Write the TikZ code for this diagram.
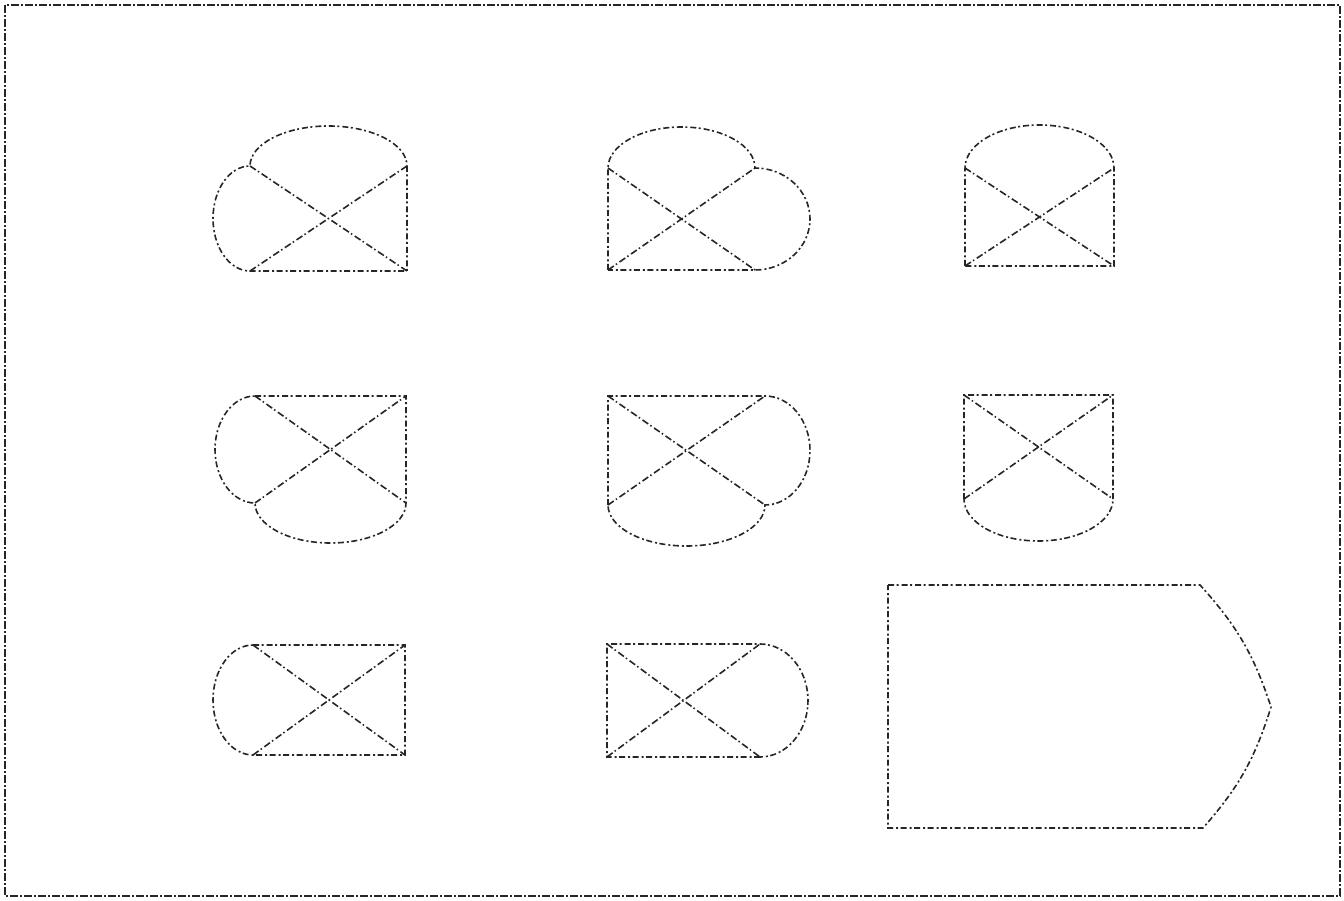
\documentclass[tikz,border=0pt]{standalone}
\usetikzlibrary{calc}
\begin{document}
\begin{tikzpicture}[x=1pt,y=-1pt,
  sk/.style={draw=black!85, line width=1.6pt, dash pattern=on 6pt off 2.5pt on 2pt off 3pt},
  xline/.style={draw=black!85, line width=1.6pt, dash pattern=on 7pt off 2.5pt on 1.5pt off 3pt},
  framebox/.style={draw=black!85, line width=1.6pt, dash pattern=on 8pt off 2pt on 2pt off 2pt}]
\useasboundingbox (0,0) rectangle (1344,901);
\draw[framebox] (5,5) rectangle (1340,896);

% shape 1: left and top rounded
\coordinate (a1) at (250,166); \coordinate (b1) at (407,166);
\coordinate (c1) at (407,271); \coordinate (d1) at (250,271);
\draw[sk] (b1) -- (c1) -- (d1) arc[start angle=90,end angle=270,x radius=37,y radius=52.5]
  arc[start angle=180,end angle=360,x radius=78.5,y radius=40] -- cycle;
\draw[xline] (a1) -- (c1) (d1) -- (b1);

% shape 2: top and right rounded
\coordinate (a2) at (608,168); \coordinate (b2) at (755,168);
\coordinate (c2) at (755,270); \coordinate (d2) at (608,270);
\draw[sk] (d2) -- (a2) arc[start angle=180,end angle=360,x radius=73.5,y radius=41]
  arc[start angle=270,end angle=450,x radius=55,y radius=51] -- cycle;
\draw[xline] (a2) -- (c2) (d2) -- (b2);

% shape 3: top rounded
\coordinate (a3) at (965,168); \coordinate (b3) at (1114,168);
\coordinate (c3) at (1114,266); \coordinate (d3) at (965,266);
\draw[sk] (d3) -- (a3) arc[start angle=180,end angle=360,x radius=74.5,y radius=43]
  -- (c3) -- cycle;
\draw[xline] (a3) -- (c3) (d3) -- (b3);

% shape 4: left and bottom rounded
\coordinate (a4) at (255,396); \coordinate (b4) at (406,396);
\coordinate (c4) at (406,503); \coordinate (d4) at (255,503);
\draw[sk] (a4) -- (b4) -- (c4) arc[start angle=0,end angle=180,x radius=75.5,y radius=40]
  arc[start angle=90,end angle=270,x radius=40,y radius=53.5] -- cycle;
\draw[xline] (a4) -- (c4) (d4) -- (b4);

% shape 5: right and bottom rounded
\coordinate (a5) at (608,396); \coordinate (b5) at (765,396);
\coordinate (c5) at (765,505); \coordinate (d5) at (608,505);
\draw[sk] (d5) -- (a5) -- (b5) arc[start angle=270,end angle=450,x radius=45,y radius=54.5]
  arc[start angle=0,end angle=180,x radius=78.5,y radius=41] -- cycle;
\draw[xline] (a5) -- (c5) (d5) -- (b5);

% shape 6: bottom rounded
\coordinate (a6) at (964,395); \coordinate (b6) at (1113,395);
\coordinate (c6) at (1113,499); \coordinate (d6) at (964,499);
\draw[sk] (d6) -- (a6) -- (b6) -- (c6)
  arc[start angle=0,end angle=180,x radius=74.5,y radius=42] -- cycle;
\draw[xline] (a6) -- (c6) (d6) -- (b6);

% shape 7: left rounded
\coordinate (a7) at (253,645); \coordinate (b7) at (405,645);
\coordinate (c7) at (405,755); \coordinate (d7) at (253,755);
\draw[sk] (a7) -- (b7) -- (c7) -- (d7)
  arc[start angle=90,end angle=270,x radius=40,y radius=55] -- cycle;
\draw[xline] (a7) -- (c7) (d7) -- (b7);

% shape 8: right rounded
\coordinate (a8) at (607,644); \coordinate (b8) at (760,644);
\coordinate (c8) at (760,757); \coordinate (d8) at (607,757);
\draw[sk] (c8) -- (d8) -- (a8) -- (b8)
  arc[start angle=270,end angle=450,x radius=48,y radius=56.5] -- cycle;
\draw[xline] (a8) -- (c8) (d8) -- (b8);

% shape 9: pointed box
\coordinate (p1) at (888,585); \coordinate (p2) at (1200,585);
\coordinate (p3) at (1271,707); \coordinate (p4) at (1203,828);
\coordinate (p5) at (888,828);
\draw[sk] (p1) -- (p2) to[bend left=12] (p3) to[bend left=12] (p4) -- (p5) -- cycle;
\end{tikzpicture}
\end{document}
